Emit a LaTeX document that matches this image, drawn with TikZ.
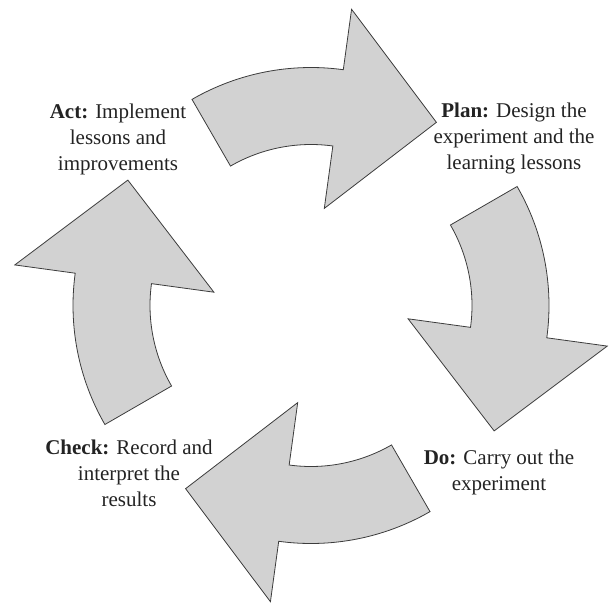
\documentclass[tikz,border=0pt]{standalone}
\usepackage{fontspec}
\setmainfont{Liberation Serif}
\definecolor{arrowfill}{RGB}{210,210,210}
\definecolor{arrowline}{RGB}{60,60,60}
\definecolor{inkgray}{RGB}{35,35,35}
\tikzset{
  cyclearrow/.style={fill=arrowfill, draw=arrowline, line width=0.8pt, line join=miter},
  stagelabel/.style={align=center, inner sep=0pt, text=inkgray,
    font=\fontsize{21}{26}\selectfont}
}
\begin{document}
\begin{tikzpicture}[x=1pt, y=1pt]
  \useasboundingbox (0,0) rectangle (609,-604);
  \coordinate (cen) at (311,-305.5);
  % four identical curved arrows, each turned a quarter round the centre
  \foreach \turn in {0,-90,-180,-270} {
    \begin{scope}[shift={(311,-305.5)}, rotate=\turn]
      \path[cyclearrow]
        (120:238pt) arc[start angle=120, end angle=82.2, radius=238pt]
        -- (82.2:299pt) -- (55.6:222pt) -- (82.2:98pt) -- (82.2:161pt)
        arc[start angle=82.2, end angle=120, radius=161pt] -- cycle;
    \end{scope}
  }
  \node[stagelabel] (act) at (118,-139)
    {\textbf{Act:} Implement\\lessons and\\improvements};
  \node[stagelabel] (plan) at (514,-138)
    {\textbf{Plan:} Design the\\experiment and the\\learning lessons};
  \node[stagelabel] (do) at (499,-472)
    {\textbf{Do:} Carry out the\\experiment};
  \node[stagelabel] (check) at (129,-473)
    {\textbf{Check:} Record and\\interpret the\\results};
\end{tikzpicture}
\end{document}
